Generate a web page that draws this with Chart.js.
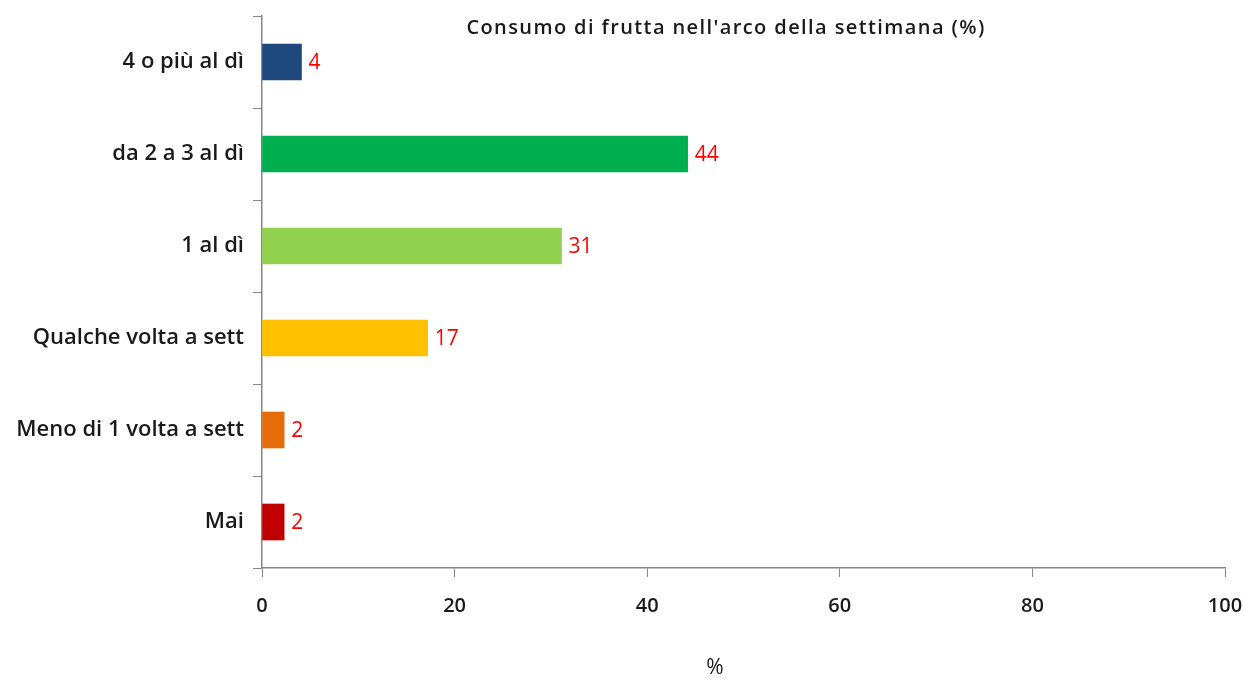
<!DOCTYPE html>
<html>
<head>
<meta charset="utf-8">
<script src="https://cdn.jsdelivr.net/npm/chart.js@4.4.1/dist/chart.umd.min.js"></script>
<style>
  html, body { margin: 0; padding: 0; background: #fff; }
  #wrap { width: 1246px; height: 678px; }
</style>
</head>
<body>
<div id="wrap"><canvas id="chart" width="1246" height="678"></canvas></div>
<script>
// data
const categories = ['4 o più al dì', 'da 2 a 3 al dì', '1 al dì', 'Qualche volta a sett', 'Meno di 1 volta a sett', 'Mai'];
const values = [4.1, 44.2, 31.1, 17.2, 2.3, 2.3];
const barColors = ['#1F497D', '#00B050', '#92D050', '#FFC000', '#E46C0A', '#C00000'];
const xTicks = [0, 20, 40, 60, 80, 100];
const chartTitle = "Consumo di frutta nell'arco della settimana (%)";
const xTitle = '%';

const FONT = '"Open Sans", sans-serif';
const AXIS_GREY = '#868686';

// red value labels at the end of each bar
const valueLabels = {
    id: 'valueLabels',
    afterDatasetsDraw(chart) {
        const ctx = chart.ctx;
        const meta = chart.getDatasetMeta(0);
        ctx.save();
        ctx.fillStyle = '#FF0000';
        ctx.font = '21px ' + FONT;
        ctx.textBaseline = 'middle';
        ctx.textAlign = 'left';
        meta.data.forEach((bar, i) => {
            ctx.fillText(String(Math.round(values[i])), bar.x + 7, bar.y + 1);
        });
        ctx.restore();
    }
};

// chart title inside the plot and the "%" under the x axis, both left of centre
const extraTexts = {
    id: 'extraTexts',
    afterDraw(chart) {
        const ctx = chart.ctx;
        ctx.save();
        ctx.fillStyle = '#1a1a1a';
        ctx.textAlign = 'center';
        ctx.textBaseline = 'middle';
        ctx.font = '600 20px ' + FONT;
        ctx.letterSpacing = '1.4px';
        ctx.fillText(chartTitle, 726, 28);
        ctx.letterSpacing = '0px';
        ctx.font = '21px ' + FONT;
        ctx.fillText(xTitle, 715, 668);
        ctx.restore();
    }
};

new Chart(document.getElementById('chart'), {
    type: 'bar',
    data: {
        labels: categories,
        datasets: [{
            data: values,
            backgroundColor: barColors,
            barThickness: 36
        }]
    },
    options: {
        indexAxis: 'y',
        responsive: false,
        animation: false,
        layout: { padding: { top: 16, right: 21, left: 0, bottom: 0 } },
        plugins: {
            legend: { display: false },
            tooltip: { enabled: false }
        },
        scales: {
            x: {
                min: 0,
                max: 100,
                afterBuildTicks(axis) {
                    axis.ticks = xTicks.map(v => ({ value: v }));
                },
                afterFit(axis) {
                    axis.height = 110;
                    axis.paddingLeft = 0;
                    axis.paddingRight = 0;
                },
                grid: {
                    drawOnChartArea: false,
                    color: AXIS_GREY,
                    tickLength: 9
                },
                border: { color: AXIS_GREY, width: 1.5 },
                ticks: {
                    padding: 17,
                    color: '#1a1a1a',
                    font: { family: FONT, size: 20, weight: '600' }
                }
            },
            y: {
                afterFit(axis) {
                    axis.width = 262;
                    axis.paddingTop = 0;
                    axis.paddingBottom = 0;
                },
                grid: {
                    drawOnChartArea: false,
                    color: AXIS_GREY,
                    tickLength: 9
                },
                border: { color: AXIS_GREY, width: 1.5 },
                ticks: {
                    padding: 9,
                    color: '#1a1a1a',
                    font: { family: FONT, size: 22, weight: '600' }
                }
            }
        }
    },
    plugins: [valueLabels, extraTexts]
});
</script>
</body>
</html>
